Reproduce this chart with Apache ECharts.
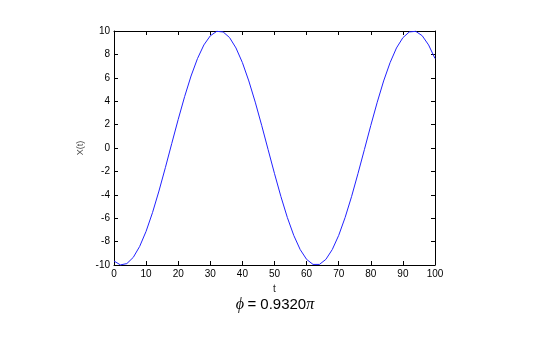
<!DOCTYPE html>
<html>
<head>
<meta charset="utf-8">
<script src="https://cdn.jsdelivr.net/npm/echarts@6/dist/echarts.min.js"></script>
<style>
html,body{margin:0;padding:0;background:#fff;}
#c{width:550px;height:350px;}
</style>
</head>
<body>
<div id="c"></div>
<script>
var tValues = [0,2,4,6,8,10,12,14,16,18,20,22,24,26,28,30,32,34,36,38,40,42,44,46,48,50,52,54,56,58,60,62,64,66,68,70,72,74,76,78,80,82,84,86,88,90,92,94,96,98,100];
var xValues = [-9.66,-9.99,-9.88,-9.35,-8.41,-7.12,-5.52,-3.68,-1.68,0.39,2.44,4.39,6.15,7.64,8.81,9.59,9.97,9.92,9.44,8.55,7.30,5.73,3.92,1.94,-0.13,-2.19,-4.15,-5.94,-7.47,-8.68,-9.52,-9.95,-9.95,-9.52,-8.68,-7.47,-5.94,-4.16,-2.19,-0.14,1.93,3.91,5.73,7.29,8.55,9.43,9.92,9.97,9.60,8.81,7.65];
var xTicks = [0,10,20,30,40,50,60,70,80,90,100];
var yTicks = [-10,-8,-6,-4,-2,0,2,4,6,8,10];
var titleText = '= 0.9320';

var chart = echarts.init(document.getElementById('c'), null, {renderer:'canvas'});
var pts = tValues.map(function(t,i){return [t, xValues[i]];});
var axisCommon = {
  axisLine:{show:true,onZero:false,lineStyle:{color:'#000',width:1}},
  axisTick:{show:true,inside:true,length:4,lineStyle:{color:'#000'}},
  splitLine:{show:false}
};
chart.setOption({
  animation:false,
  backgroundColor:'#fff',
  grid:{left:114,top:31,width:321,height:234,containLabel:false},
  xAxis:[
    Object.assign({type:'value',min:xTicks[0],max:xTicks[xTicks.length-1],interval:10,position:'bottom',
      name:'t',nameLocation:'middle',nameGap:15,nameTextStyle:{fontFamily:'Liberation Sans',fontSize:10,color:'#222'},
      axisLabel:{fontFamily:'Liberation Sans',fontSize:10,color:'#000',margin:4}}, axisCommon),
    Object.assign({type:'value',min:0,max:100,interval:10,position:'top',axisLabel:{show:false}}, axisCommon)
  ],
  yAxis:[
    Object.assign({type:'value',min:yTicks[0],max:yTicks[yTicks.length-1],interval:2,position:'left',
      name:'X(t)',nameLocation:'middle',nameGap:21,nameRotate:90,nameTextStyle:{fontFamily:'Liberation Sans',fontSize:9,color:'#444'},
      axisLabel:{fontFamily:'Liberation Sans',fontSize:10,color:'#000',margin:4}}, axisCommon),
    Object.assign({type:'value',min:-10,max:10,interval:2,position:'right',axisLabel:{show:false}}, axisCommon)
  ],
  graphic:[{
    type:'text',left:'center',top:297,
    style:{
      text:'{i|\u03d5} {n|'+titleText+'}{i|\u03c0}',
      rich:{
        i:{fontFamily:'Liberation Serif',fontStyle:'italic',fontSize:16,fill:'#000'},
        n:{fontFamily:'Liberation Sans',fontSize:15,fill:'#000'}
      }
    },
    x:-5
  }],
  series:[{
    type:'line',xAxisIndex:0,yAxisIndex:0,data:pts,showSymbol:false,smooth:false,
    lineStyle:{color:'#2222ff',width:1},clip:false
  }]
});
</script>
</body>
</html>
